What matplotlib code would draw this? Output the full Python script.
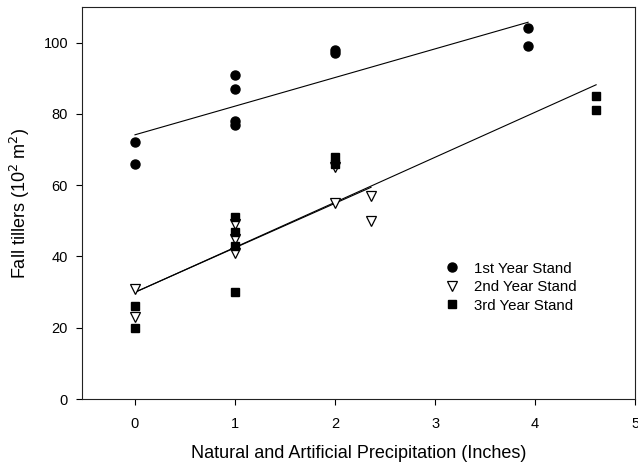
import matplotlib
matplotlib.use("Agg")
import matplotlib.pyplot as plt
import numpy as np

plt.rcParams['font.family'] = ['Liberation Sans', 'DejaVu Sans']

# precipitation (inches) and fall tillers (10^2 m^2) per stand age
x_year1 = [0, 0, 1, 1, 1, 1, 2, 2, 3.93, 3.93]
y_year1 = [72, 66, 91, 87, 78, 77, 98, 97, 104, 99]

x_year2 = [0, 0, 1, 1, 1, 2, 2, 2.36, 2.36]
y_year2 = [31, 23, 49, 45, 41, 65, 55, 57, 50]

x_year3 = [0, 0, 1, 1, 1, 1, 2, 2, 4.61, 4.61]
y_year3 = [26, 20, 51, 47, 43, 30, 68, 66, 85, 81]

labels = ['1st Year Stand', '2nd Year Stand', '3rd Year Stand']
x_ticks = [0, 1, 2, 3, 4, 5]
y_ticks = [0, 20, 40, 60, 80, 100]

fig = plt.figure(figsize=(6.38, 4.70), dpi=100)
ax = fig.add_axes([0.1285, 0.151, 0.867, 0.834])

series = [
    (x_year1, y_year1, dict(marker='o', color='black', markersize=6.5, markerfacecolor='black')),
    (x_year2, y_year2, dict(marker='v', color='black', markersize=7, markerfacecolor='white',
                            markeredgewidth=0.9)),
    (x_year3, y_year3, dict(marker='s', color='black', markersize=6, markerfacecolor='black')),
]

# regression line for each stand over the range of its data
for xs, ys, style in series:
    xs = np.array(xs)
    ys = np.array(ys)
    slope, icpt = np.polyfit(xs, ys, 1)
    xl = np.array([xs.min(), xs.max()])
    ax.plot(xl, icpt + slope * xl, color='black', linewidth=0.8, zorder=2)

handles = []
for (xs, ys, style), lab in zip(series, labels):
    h, = ax.plot(xs, ys, linestyle='none', label=lab, zorder=3, **style)
    handles.append(h)

ax.set_xlim(-0.53, 5)
ax.set_ylim(0, 110)
ax.set_xticks(x_ticks)
ax.set_yticks(y_ticks)
ax.tick_params(direction='out', length=4, width=0.8, labelsize=10.5)
ax.tick_params(axis='x', pad=9)
ax.tick_params(axis='y', pad=6)
for sp in ax.spines.values():
    sp.set_linewidth(0.8)
    sp.set_color('#222222')

ax.set_xlabel('Natural and Artificial Precipitation (Inches)', fontsize=13, labelpad=10)
ax.set_ylabel('Fall tillers (10$^2$ m$^2$)', fontsize=13, labelpad=8)

ax.legend(handles=handles, loc='upper left', bbox_to_anchor=(0.625, 0.385),
          frameon=False, fontsize=10.8, handletextpad=0.7, labelspacing=0.3,
          handlelength=1.5)

fig.savefig('out.png', dpi=100)
